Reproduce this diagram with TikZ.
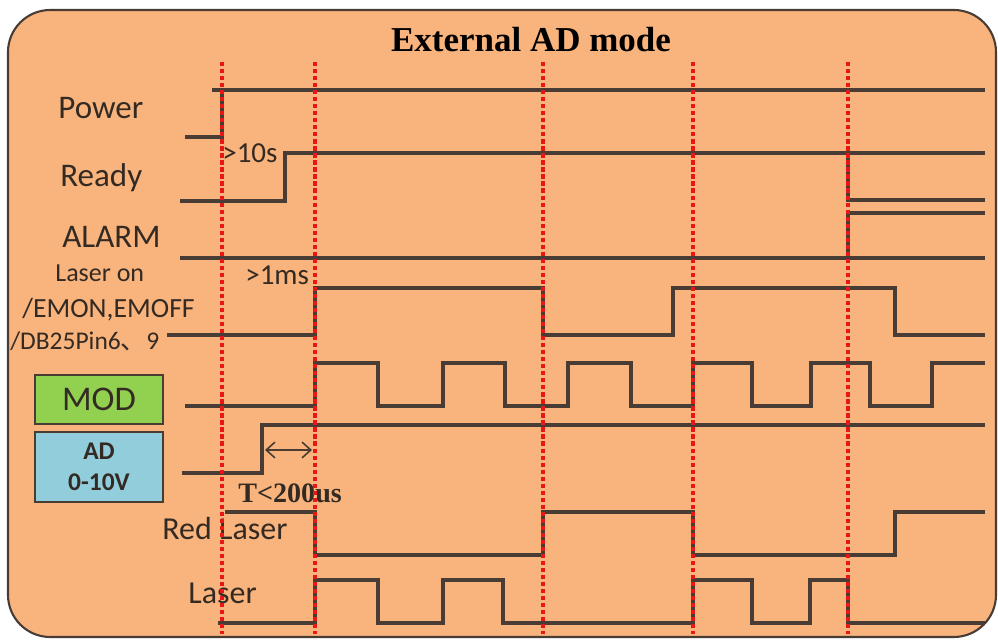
\documentclass[tikz,border=0pt]{standalone}
\usepackage{fontspec}
\setmainfont{Carlito}
\newfontfamily\titlefont{Liberation Serif}
\newfontfamily\cjk{Noto Sans CJK SC}
\usetikzlibrary{arrows.meta}

\definecolor{panelfill}{RGB}{248,180,124}
\definecolor{wavecol}{RGB}{72,60,52}
\definecolor{inkcol}{RGB}{52,42,36}
\definecolor{modgreen}{RGB}{146,208,80}
\definecolor{adblue}{RGB}{146,205,220}
\definecolor{markred}{RGB}{232,22,22}

\begin{document}
\begin{tikzpicture}[
  x=0.02cm, y=-0.02cm,
  wave/.style={draw=wavecol, line width=1.9pt},
  marker/.style={draw=markred, line width=2pt, dash pattern=on 2.4pt off 1.6pt},
  siglabel/.style={text=inkcol, inner sep=0pt, anchor=base west, font=\fontsize{18.8}{20}\selectfont},
  smalllabel/.style={siglabel, font=\fontsize{15.8}{18}\selectfont},
  timelabel/.style={siglabel, font=\fontsize{16.5}{18}\selectfont},
  inbox/.style={draw=wavecol, line width=1.4pt, minimum width=2.56cm, align=center, text=inkcol, inner sep=0pt}
]
\useasboundingbox (0,0) rectangle (998,641);
\fill[white] (0,0) rectangle (998,641);

% panel
\draw[draw=wavecol, line width=1.2pt, fill=panelfill, rounded corners=24pt] (8,10) rectangle (996,637);
\node[anchor=base, inner sep=0pt, font=\titlefont\bfseries\fontsize{19.9}{22}\selectfont] (title) at (531,52) {External AD mode};

% signal names
\node[siglabel] (power) at (58,119) {Power};
\node[siglabel] (ready) at (60,187) {Ready};
\node[siglabel] (alarm) at (62,248) {ALARM};
\node[siglabel, font=\fontsize{14.8}{16}\selectfont] (laseron) at (55,282) {Laser on};
\node[smalllabel] (emon) at (22,318) {/EMON,EMOFF};
\node[smalllabel, font=\fontsize{14.5}{16}\selectfont] (pins) at (10,350) {/DB25Pin6{\cjk 、}9};
\node[inbox, fill=modgreen, minimum height=0.98cm, font=\fontsize{19.7}{20}\selectfont] (mod) at (99,399.5) {MOD};
\node[inbox, fill=adblue, minimum height=1.4cm, font=\bfseries\fontsize{14.5}{17.6}\selectfont] (ad) at (99,467) {AD\\0-10V};
\node[siglabel, font=\fontsize{18.2}{20}\selectfont] (redlaser) at (162,540) {Red Laser};
\node[siglabel, font=\fontsize{18.2}{20}\selectfont] (laser) at (188,604) {Laser};

% timing notes
\node[timelabel] (tready) at (222,163) {>10s};
\node[timelabel] (ton) at (245,285) {>1ms};
\node[siglabel, font=\titlefont\bfseries\fontsize{16}{18}\selectfont] (tad) at (238,503) {T<200us};

% Power
\draw[wave] (185,137) -- (222,137) -- (222,90);
\draw[wave] (212,90) -- (985,90);
% Ready
\draw[wave] (180,201) -- (285,201) -- (285,153) -- (985,153);
\draw[wave] (848,153) -- (848,200) -- (985,200);
% ALARM
\draw[wave] (180,258) -- (985,258);
\draw[wave] (848,258) -- (848,213) -- (985,213);
% Laser on
\draw[wave] (167,335) -- (315,335) -- (315,288) -- (543,288) -- (543,335) -- (673,335)
  -- (673,288) -- (895,288) -- (895,335) -- (985,335);
% MOD
\draw[wave] (185,406) -- (315,406) -- (315,363) -- (378,363) -- (378,406) -- (443,406)
  -- (443,363) -- (505,363) -- (505,406) -- (568,406) -- (568,363) -- (631,363)
  -- (631,406) -- (693,406) -- (693,363) -- (752,363) -- (752,406) -- (811,406)
  -- (811,363) -- (870,363) -- (870,406) -- (932,406) -- (932,363) -- (985,363);
% AD
\draw[wave] (182,473) -- (262,473) -- (262,425) -- (985,425);
% Red Laser
\draw[wave] (225,512) -- (315,512) -- (315,555) -- (543,555) -- (543,512) -- (693,512)
  -- (693,555) -- (895,555) -- (895,512) -- (985,512);
% Laser
\draw[wave] (218,623) -- (315,623) -- (315,580) -- (378,580) -- (378,623) -- (443,623)
  -- (443,580) -- (503,580) -- (503,623) -- (693,623) -- (693,580) -- (752,580)
  -- (752,623) -- (810,623) -- (810,580) -- (848,580) -- (848,623) -- (985,623);

% delay arrow
\coordinate (tstart) at (265,450);
\coordinate (tend) at (312,450);
\draw[draw=wavecol, line width=0.9pt, {Straight Barb[length=5pt,width=9pt]}-{Straight Barb[length=5pt,width=9pt]}] (tstart) -- (tend);

% red markers
\foreach \t in {222,315,543,693,848}
  \draw[marker] (\t,62) -- (\t,634);
\end{tikzpicture}
\end{document}
